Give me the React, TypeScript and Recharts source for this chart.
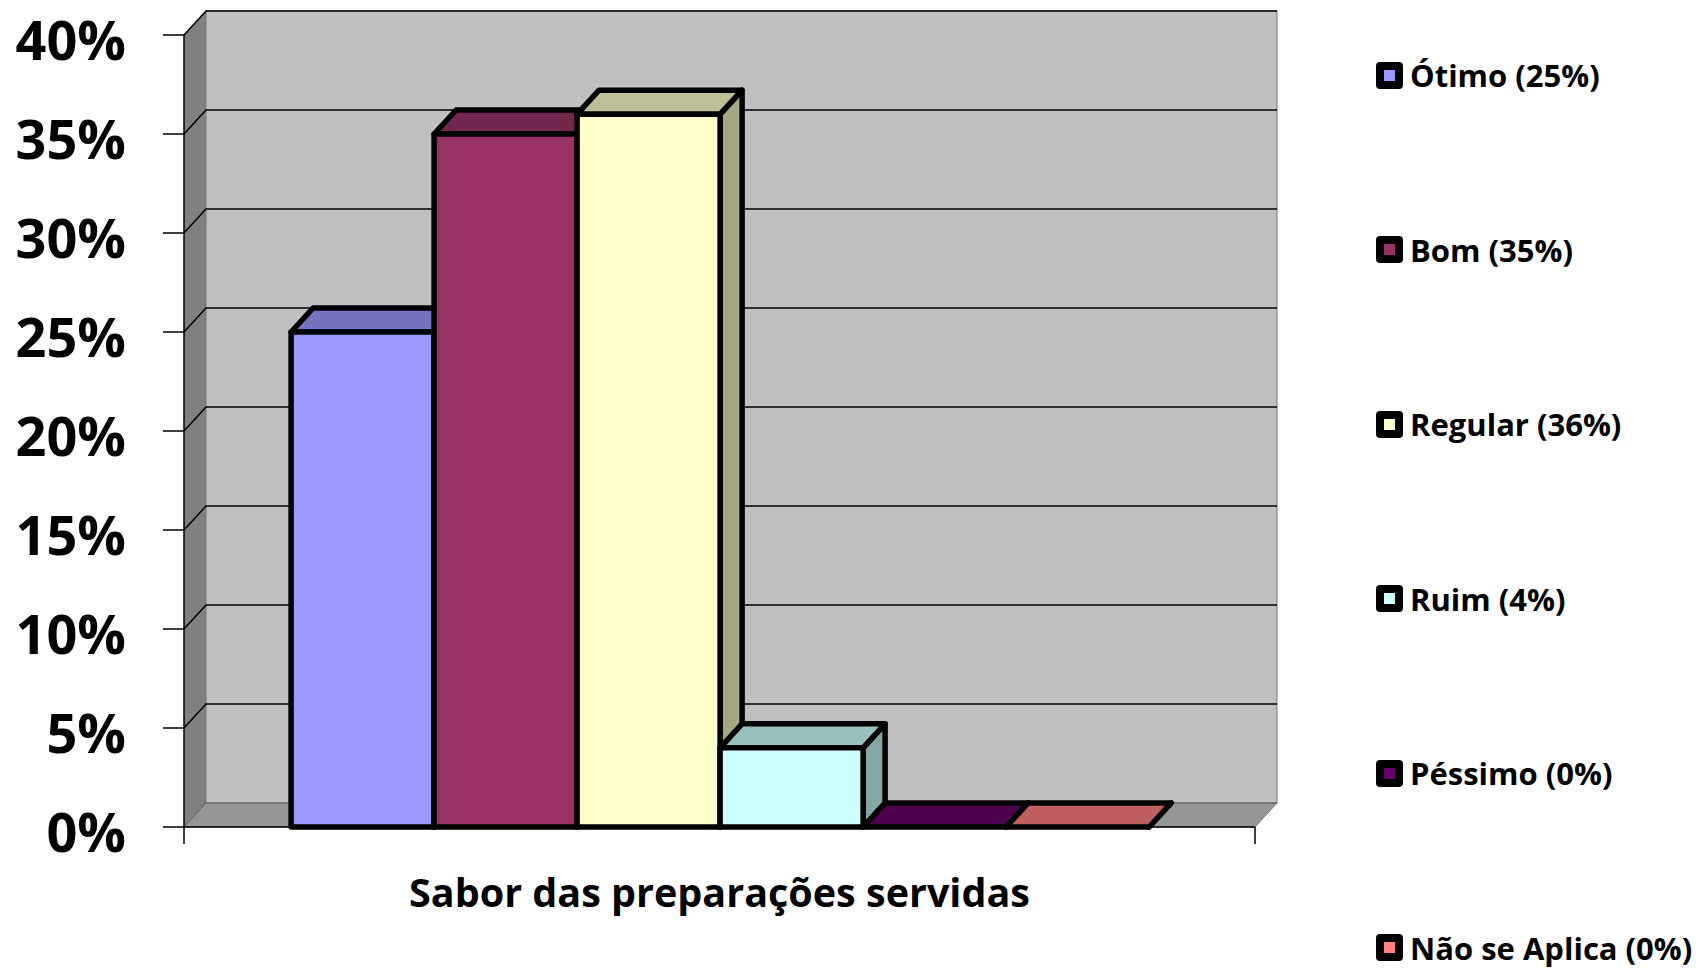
import React from "react";
import { BarChart, Bar, XAxis, YAxis, ReferenceArea, Legend } from "recharts";

// chart values
const categories = ["Sabor das preparações servidas"];
const seriesKeys = ["otimo", "bom", "regular", "ruim", "pessimo", "naoSeAplica"];
const seriesNames = ["Ótimo", "Bom", "Regular", "Ruim", "Péssimo", "Não se Aplica"];
const seriesValues = [0.25, 0.35, 0.36, 0.04, 0, 0];
const yTicks = [0, 0.05, 0.1, 0.15, 0.2, 0.25, 0.3, 0.35, 0.4];

const seriesColors = ["#9999FF", "#993366", "#FFFFCC", "#CCFFFF", "#660066", "#FF8080"];

const FONT = "'Open Sans', 'Noto Sans', sans-serif";
const DX = 22; // 3d depth
const DY = 24;

const data = categories.map((category) => {
  const row: Record<string, any> = { category };
  seriesKeys.forEach((k, i) => {
    row[k] = seriesValues[i];
  });
  return row;
});

const shade = (hex: string, f: number) => {
  const n = parseInt(hex.slice(1), 16);
  const r = Math.round(((n >> 16) & 255) * f);
  const g = Math.round(((n >> 8) & 255) * f);
  const b = Math.round((n & 255) * f);
  return `rgb(${r},${g},${b})`;
};

const pct = (v: number) => `${Math.round(v * 100)}%`;

// walls, floor and gridlines, drawn inside the plot box the library hands over
const Walls = (props: any) => {
  const { x, y, width, height } = props;
  const bottom = y + height;
  const right = x + width;
  const yMax = yTicks[yTicks.length - 1];
  const toY = (v: number) => bottom - (v / yMax) * height;
  return (
    <g>
      <polygon
        points={`${x},${y} ${x + DX},${y - DY} ${x + DX},${bottom - DY} ${x},${bottom}`}
        fill="#808080"
      />
      <rect x={x + DX} y={y - DY} width={width} height={height} fill="#C0C0C0" stroke="#777" strokeWidth={1} />
      <polygon
        points={`${x},${bottom} ${right},${bottom} ${right + DX},${bottom - DY} ${x + DX},${bottom - DY}`}
        fill="#969696"
        stroke="#777"
        strokeWidth={1}
      />
      {yTicks.map((t) => {
        const ty = toY(t);
        return (
          <polyline
            key={t}
            points={`${x},${ty} ${x + DX},${ty - DY} ${right + DX},${ty - DY}`}
            fill="none"
            stroke={t === 0 ? "#666" : "#000"}
            strokeWidth={t === 0 ? 1 : 1.5}
          />
        );
      })}
      <line x1={x} y1={bottom} x2={right} y2={bottom} stroke="#000" strokeWidth={1.5} />
      <line x1={x} y1={bottom} x2={x} y2={bottom + 17} stroke="#000" strokeWidth={1.5} />
      <line x1={right} y1={bottom} x2={right} y2={bottom + 17} stroke="#000" strokeWidth={1.5} />
    </g>
  );
};

const makeBox = (color: string) => (props: any) => {
  const { x, y, width, height } = props;
  if (x == null || y == null || isNaN(y)) return <g />;
  const h = Math.max(0, height || 0);
  const top = `${x},${y} ${x + DX},${y - DY} ${x + width + DX},${y - DY} ${x + width},${y}`;
  const side = `${x + width},${y} ${x + width + DX},${y - DY} ${x + width + DX},${y + h - DY} ${x + width},${y + h}`;
  return (
    <g stroke="#000" strokeWidth={5.5} strokeLinejoin="round">
      <polygon points={side} fill={shade(color, 0.65)} />
      <polygon points={top} fill={shade(color, 0.75)} />
      <rect x={x} y={y} width={width} height={h} fill={color} />
    </g>
  );
};

const YTick = (props: any) => {
  const { x, y, payload } = props;
  return (
    <text
      x={x + 2}
      y={y + 4}
      textAnchor="end"
      dominantBaseline="central"
      fontFamily={FONT}
      fontWeight={700}
      fontSize={54}
      fill="#000"
    >
      {pct(payload.value)}
    </text>
  );
};

const XTick = (props: any) => {
  const { x, y, payload } = props;
  return (
    <text
      x={x}
      y={y + 65}
      textAnchor="middle"
      dominantBaseline="central"
      fontFamily={FONT}
      fontWeight={700}
      fontSize={39.5}
      fill="#000"
    >
      {payload.value}
    </text>
  );
};

const LegendContent = () => (
  <div style={{ fontFamily: FONT, fontWeight: 700, fontSize: 31, color: "#000" }}>
    {seriesNames.map((name, i) => (
      <div
        key={name}
        style={{
          display: "flex",
          alignItems: "center",
          height: 40,
          marginBottom: i < seriesNames.length - 1 ? 134.6 : 0,
          whiteSpace: "nowrap",
        }}
      >
        <span
          style={{
            display: "inline-block",
            width: 11,
            height: 11,
            border: "8px solid #000",
            borderRadius: 4,
            background: seriesColors[i],
            marginRight: 7,
          }}
        />
        <span>{`${name} (${pct(seriesValues[i])})`}</span>
      </div>
    ))}
  </div>
);

export default function App() {
  return (
    <div style={{ position: "absolute", left: 0, top: 0, background: "#fff" }}>
      <BarChart
        width={1696}
        height={968}
        data={data}
        margin={{ top: 35, right: 441, bottom: 0, left: 0 }}
        barCategoryGap="10%"
        barGap={0}
      >
        <ReferenceArea y1={0} y2={0.4} shape={Walls} ifOverflow="visible" />
        <XAxis
          dataKey="category"
          height={141}
          tickLine={false}
          axisLine={false}
          tickSize={0}
          tickMargin={0}
          tick={<XTick />}
        />
        <YAxis
          type="number"
          domain={[0, 0.4]}
          ticks={yTicks}
          width={184}
          tickSize={21}
          tickMargin={39}
          tick={<YTick />}
          axisLine={{ stroke: "#000", strokeWidth: 1.5 }}
          tickLine={{ stroke: "#000", strokeWidth: 1.5 }}
        />
        <Legend
          layout="vertical"
          align="center"
          verticalAlign="middle"
          wrapperStyle={{ left: 1376, top: 55, width: 320 }}
          content={<LegendContent />}
        />
        {seriesKeys.map((k, i) => (
          <Bar
            key={k}
            dataKey={k}
            name={seriesNames[i]}
            fill={seriesColors[i]}
            shape={makeBox(seriesColors[i])}
            isAnimationActive={false}
          />
        ))}
      </BarChart>
    </div>
  );
}
